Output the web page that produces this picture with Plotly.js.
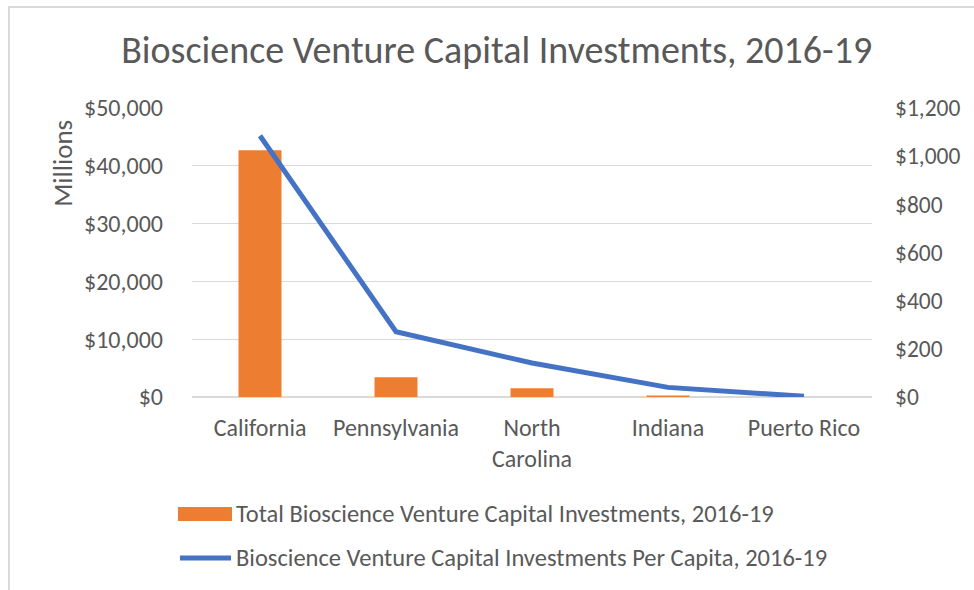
<!DOCTYPE html>
<html>
<head>
<meta charset="utf-8">
<script src="https://cdn.plot.ly/plotly-3.0.1.min.js"></script>
<style>
html,body{margin:0;padding:0;background:#fff;}
#wrap{position:relative;width:974px;height:590px;overflow:hidden;}
#frame{position:absolute;left:8px;top:6px;width:2000px;height:2000px;border-left:2px solid #d9d9d9;border-top:2px solid #d9d9d9;pointer-events:none;z-index:5;}
#chart{position:absolute;left:0;top:0;width:974px;height:590px;}
</style>
</head>
<body>
<div id="wrap">
<div id="chart"></div>
<div id="frame"></div>
</div>
<script>
const categories = ["California", "Pennsylvania", "North Carolina", "Indiana", "Puerto Rico"];
const tickLabels = ["California", "Pennsylvania", "North<br>Carolina", "Indiana", "Puerto Rico"];
const totalInvestments = [42700, 3400, 1500, 250, 20];
const perCapitaInvestments = [1085, 271, 141, 40, 3];
const seriesNames = ["Total Bioscience Venture Capital Investments, 2016-19",
                     "Bioscience Venture Capital Investments Per Capita, 2016-19"];
const chartTitle = "Bioscience Venture Capital Investments, 2016-19";
const yTitle = "Millions";

const FONT = "Carlito, 'Liberation Sans Narrow', 'Open Sans', sans-serif";
const GREY = "#595959";
const ORANGE = "#ED7D31";
const BLUE = "#4472C4";

const traces = [
  {type: "bar", x: categories, y: totalInvestments, name: seriesNames[0],
   marker: {color: ORANGE}, yaxis: "y", hoverinfo: "x+y"},
  {type: "scatter", mode: "lines", x: categories, y: perCapitaInvestments, name: seriesNames[1],
   line: {color: BLUE, width: 5, shape: "linear"}, yaxis: "y2", hoverinfo: "x+y"}
];

const layout = {
  width: 974, height: 590,
  margin: {l: 192, r: 102, t: 108, b: 193, pad: 0},
  paper_bgcolor: "#fff", plot_bgcolor: "#fff",
  showlegend: false,
  bargap: 0.684,
  font: {family: FONT, color: GREY, size: 24},
  title: {text: chartTitle, font: {family: FONT, size: 38, color: GREY},
          x: 0.51, xanchor: "center", y: 0.915, yanchor: "middle"},
  xaxis: {
    tickvals: categories, ticktext: tickLabels,
    showgrid: false, zeroline: false, showline: false, ticks: "",
    tickfont: {family: FONT, size: 24, color: GREY},
    ticklabelstandoff: 14
  },
  yaxis: {
    range: [0, 50000], dtick: 10000, tickprefix: "$", tickformat: ",d",
    showgrid: true, gridcolor: "#d9d9d9", gridwidth: 1.3,
    zeroline: true, zerolinecolor: "#d9d9d9", zerolinewidth: 1.3,
    showline: false, ticks: "",
    tickfont: {family: FONT, size: 24, color: GREY},
    ticklabelstandoff: 28
  },
  yaxis2: {
    range: [0, 1200], dtick: 200, tickprefix: "$", tickformat: ",d",
    overlaying: "y", side: "right", showgrid: false, zeroline: false,
    showline: false, ticks: "",
    tickfont: {family: FONT, size: 23.5, color: GREY},
    ticklabelstandoff: 22
  },
  annotations: [
    {text: yTitle, xref: "paper", yref: "paper", x: -0.19, y: 0.81,
     xanchor: "center", yanchor: "middle", textangle: -90, showarrow: false,
     font: {family: FONT, size: 27, color: GREY}},
    {text: seriesNames[0], xref: "paper", yref: "paper", x: 0.062, y: -0.405,
     xanchor: "left", yanchor: "middle", showarrow: false,
     font: {family: FONT, size: 24.5, color: GREY}},
    {text: seriesNames[1], xref: "paper", yref: "paper", x: 0.062, y: -0.557,
     xanchor: "left", yanchor: "middle", showarrow: false,
     font: {family: FONT, size: 24.5, color: GREY}}
  ],
  shapes: [
    {type: "rect", xref: "paper", yref: "paper", x0: -0.0206, x1: 0.0588, y0: -0.381, y1: -0.429,
     fillcolor: ORANGE, line: {width: 0}},
    {type: "line", xref: "paper", yref: "paper", x0: -0.0176, x1: 0.0574, y0: -0.557, y1: -0.557,
     line: {color: BLUE, width: 5}}
  ]
};

Plotly.newPlot("chart", traces, layout, {displayModeBar: false, staticPlot: true});
</script>
</body>
</html>
